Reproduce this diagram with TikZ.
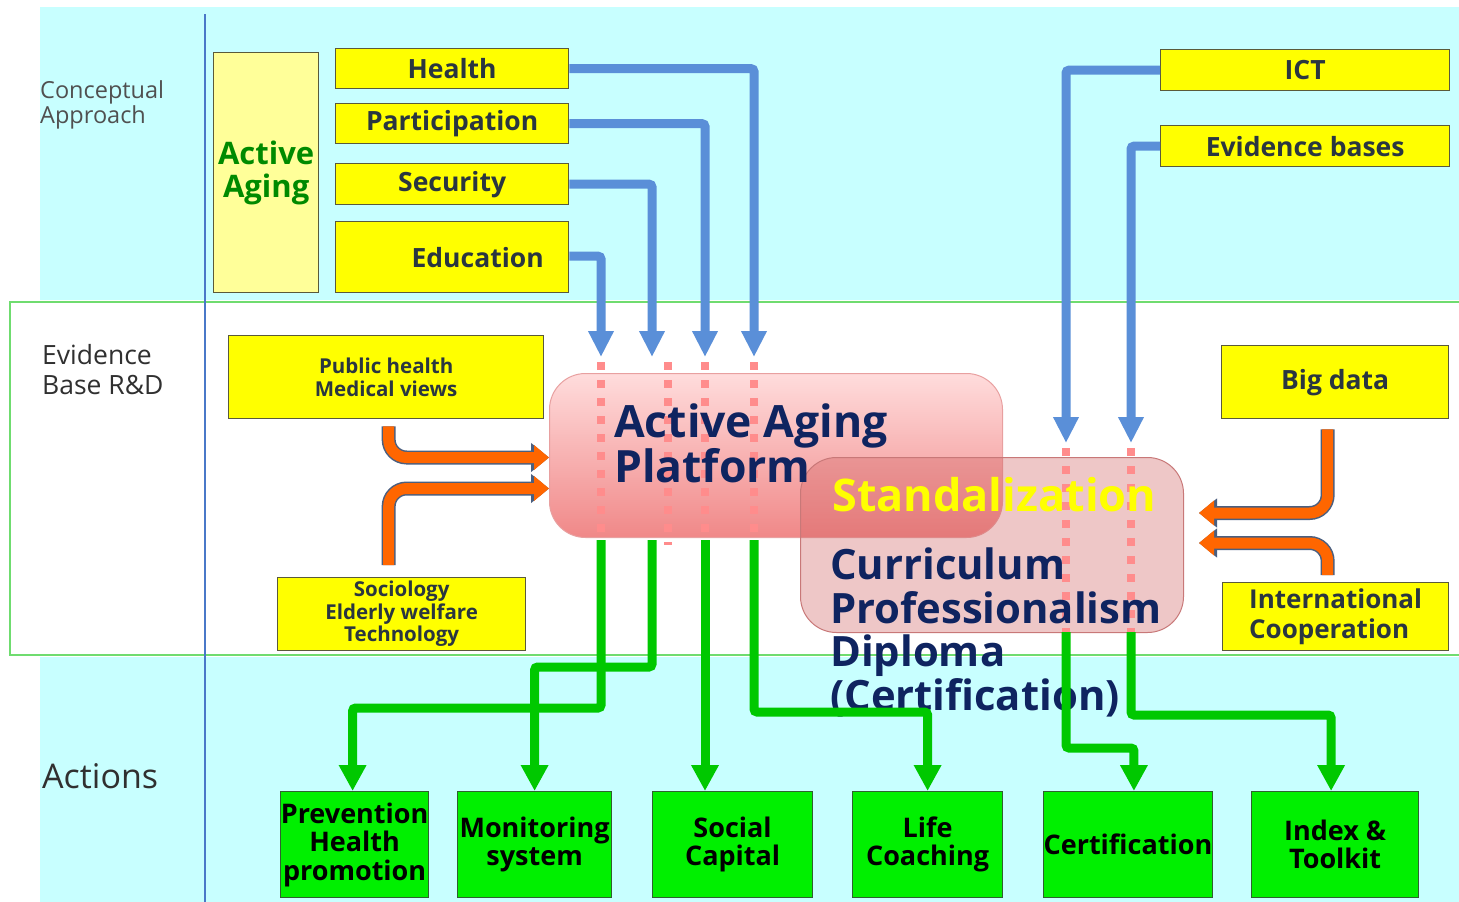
\documentclass[tikz,border=0pt]{standalone}
\usepackage{fontspec}
\setmainfont{Open Sans}
\usetikzlibrary{arrows.meta}
\definecolor{cyanbg}{HTML}{C8FFFF}
\definecolor{bandline}{HTML}{6FDC6F}
\definecolor{vline}{HTML}{4A78C8}
\definecolor{ybg}{HTML}{FFFF00}
\definecolor{lybg}{HTML}{FFFF99}
\definecolor{yedge}{HTML}{5A5A3A}
\definecolor{ytext}{HTML}{2A3640}
\definecolor{gbg}{HTML}{00F000}
\definecolor{gedge}{HTML}{306030}
\definecolor{bluec}{HTML}{5A8FD8}
\definecolor{greenc}{HTML}{00C800}
\definecolor{orangec}{HTML}{FF6600}
\definecolor{orangeedge}{HTML}{4A5F80}
\definecolor{navy}{HTML}{0F2460}
\definecolor{dotc}{HTML}{FF8C8C}
\definecolor{aagreen}{HTML}{008A00}
\definecolor{labgray}{HTML}{505050}
\definecolor{labdark}{HTML}{303030}
\definecolor{plattop}{HTML}{FFDCDC}
\definecolor{platbot}{HTML}{F08888}
\definecolor{platedge}{HTML}{E8A0A0}
\definecolor{stdfill}{HTML}{D06060}
\definecolor{stdedge}{HTML}{C87878}
\definecolor{stdyellow}{HTML}{FFFF00}
\begin{document}
\begin{tikzpicture}[x=1pt,y=-1pt,
  ybox/.style={draw=yedge, fill=ybg, line width=1.3pt, inner sep=0pt, anchor=north west, text=ytext, align=center, font=\bfseries\fontsize{26.5}{30}\selectfont},
  gbox/.style={draw=gedge, fill=gbg, line width=1.2pt, inner sep=0pt, anchor=north west, text=black, align=center, font=\bfseries\fontsize{27}{28.5}\selectfont, minimum height=106pt},
  bluearr/.style={draw=bluec, line width=9pt, rounded corners=3pt, -{Triangle[width=24pt,length=26pt]}},
  greenarr/.style={draw=greenc, line width=9pt, rounded corners=3pt, -{Triangle[width=26pt,length=26pt]}},
  dotline/.style={draw=dotc, line width=8pt, dash pattern=on 8pt off 10pt},
  orangeback/.style={draw=orangeedge, line width=14pt, rounded corners=18pt, -{Triangle[width=28pt,length=18pt]}},
  orangefront/.style={draw=orangec, line width=11pt, rounded corners=18pt, -{Triangle[width=24pt,length=15pt]}},
  sidelabel/.style={anchor=west, inner sep=0pt, align=left},
]
\useasboundingbox (0,0) rectangle (1459,902);
\fill[white] (0,0) rectangle (1459,902);
\fill[cyanbg] (40,7) rectangle (1459,300);
\fill[cyanbg] (40,657) rectangle (1459,902);
\draw[bandline, line width=1.5pt] (1459,302) -- (10,302) -- (10,655) -- (1459,655);
\draw[vline, line width=2pt] (205,14) -- (205,902);

% side labels
\node[sidelabel, text=labgray, font=\fontsize{23.5}{25}\selectfont] (lconc) at (40,105) {Conceptual\\Approach};
\node[sidelabel, text=labdark, font=\fontsize{26.5}{30}\selectfont] (levid) at (42,370) {Evidence\\Base R\&D};
\node[sidelabel, text=labdark, font=\fontsize{34}{36}\selectfont] (lact) at (42,776) {Actions};

% conceptual boxes
\node[draw=yedge, fill=lybg, line width=1.3pt, anchor=north west, minimum width=105pt, minimum height=240pt, inner sep=0pt, text=aagreen, font=\bfseries\fontsize{31}{33}\selectfont, align=center] (aa) at (213,52) {Active\\Aging};
\node[ybox, minimum width=233pt, minimum height=40pt] (health) at (335,48) {Health};
\node[ybox, minimum width=233pt, minimum height=40pt] (part) at (335,103) {Participation};
\node[ybox, minimum width=233pt, minimum height=41pt] (sec) at (335,163) {Security};
\node[ybox, minimum width=233pt, minimum height=71pt] (edu) at (335,221) {\hspace*{51pt}Education};
\node[ybox, minimum width=289pt, minimum height=41pt] (ict) at (1160,49) {ICT};
\node[ybox, minimum width=289pt, minimum height=41pt] (evid) at (1160,125) {Evidence bases};

% evidence boxes
\node[ybox, minimum width=315pt, minimum height=83pt, font=\bfseries\fontsize{20.5}{23}\selectfont] (ph) at (228,335) {Public health\\Medical views};
\node[ybox, minimum width=248pt, minimum height=73pt, font=\bfseries\fontsize{20.5}{22.5}\selectfont] (soc) at (277,577) {Sociology\\Elderly welfare\\Technology};
\node[ybox, minimum width=227pt, minimum height=73pt] (big) at (1221,345) {Big data};
\node[ybox, minimum width=226pt, minimum height=68pt, align=left, font=\bfseries\fontsize{26}{30}\selectfont] (intl) at (1222,582) {International\\Cooperation};

% action boxes
\node[gbox, minimum width=148pt] (prev) at (280,791) {Prevention\\Health\\promotion};
\node[gbox, minimum width=154pt] (mon) at (457,791) {Monitoring\\system};
\node[gbox, minimum width=160pt] (socap) at (652,791) {Social\\Capital};
\node[gbox, minimum width=150pt] (life) at (852,791) {Life\\Coaching};
\node[gbox, minimum width=167pt] (cert) at (1043,791) {Certification};
\node[gbox, minimum width=167pt] (index) at (1251,791) {Index \&\\Toolkit};

% entry points
\coordinate (pin1) at (601,357);
\coordinate (pin2) at (652,357);
\coordinate (pin3) at (705,357);
\coordinate (pin4) at (754,357);
\coordinate (pin5) at (1066,443);
\coordinate (pin6) at (1131,443);

% blue arrows
\draw[bluearr] (health.east) -| (pin4);
\draw[bluearr] (part.east) -| (pin3);
\draw[bluearr] (sec.east) -| (pin2);
\draw[bluearr] ([yshift=1pt]edu.east) -| (pin1);
\draw[bluearr] (ict.west) -| (pin5);
\draw[bluearr] (evid.west) -| (pin6);

% platform
\node[draw=platedge, line width=1pt, rounded corners=36pt, top color=plattop, bottom color=platbot, anchor=north west, minimum width=453pt, minimum height=164pt, inner sep=0pt] (plat) at (549,373) {};
\draw[dotline] (601,362) -- (601,545);
\draw[dotline] (668,362) -- (668,545);
\draw[dotline] (705,362) -- (705,545);
\draw[dotline] (754,362) -- (754,545);

% standardization
\node[draw=stdedge, line width=1pt, rounded corners=36pt, fill=stdfill, fill opacity=0.35, anchor=north west, minimum width=383pt, minimum height=175pt, inner sep=0pt] (std) at (800,457) {};
\draw[dotline] (1066,448) -- (1066,635);
\draw[dotline] (1131,448) -- (1131,635);

% texts
\node[anchor=north west, inner sep=0pt, align=left, text=navy, font=\bfseries\fontsize{44.5}{44}\selectfont] (plattxt) at (614,403) {Active Aging\\Platform};
\node[anchor=north west, inner sep=0pt, align=left, text=stdyellow, font=\bfseries\fontsize{45}{44}\selectfont] (stdtitle) at (832,477) {Standalization};
\node[anchor=north west, inner sep=0pt, align=left, text=navy, font=\bfseries\fontsize{41.8}{43.5}\selectfont] (stdtxt) at (830,548) {Curriculum\\Professionalism\\Diploma\\(Certification)};

% green arrows
\coordinate (gs1) at (601,540);
\coordinate (gs2) at (652,540);
\coordinate (gs3) at (705,540);
\coordinate (gs4) at (754,540);
\coordinate (gs5) at (1066,632);
\coordinate (gs6) at (1131,632);
\draw[greenarr] (gs1) -- ++(0,168) -| ([xshift=-2pt]prev.north);
\draw[greenarr] (gs2) -- ++(0,127) -| (mon.north);
\draw[greenarr] (gs3) -- (gs3 |- socap.north);
\draw[greenarr] (gs4) -- ++(0,172) -| (life.north);
\draw[greenarr] (gs5) -- ++(0,116) -| ([xshift=6pt]cert.north);
\draw[greenarr] (gs6) -- ++(0,83) -| ([xshift=-4pt]index.north);

% orange arrows
\draw[orangeback] ([xshift=2.5pt,yshift=-7pt]ph.south) |- ([yshift=-2pt]plat.west);
\draw[orangefront] ([xshift=2.5pt,yshift=-7pt]ph.south) |- ([yshift=-2pt]plat.west);
\draw[orangeback] ([xshift=-13pt,yshift=12pt]soc.north) |- ([yshift=-33pt]plat.west);
\draw[orangefront] ([xshift=-13pt,yshift=12pt]soc.north) |- ([yshift=-33pt]plat.west);
\draw[orangeback] ([xshift=-7.5pt,yshift=-10pt]big.south) |- ([xshift=15pt,yshift=32pt]std.east);
\draw[orangefront] ([xshift=-7.5pt,yshift=-10pt]big.south) |- ([xshift=15pt,yshift=32pt]std.east);
\draw[orangeback] ([xshift=-8pt,yshift=7pt]intl.north) |- ([xshift=15pt,yshift=2pt]std.east);
\draw[orangefront] ([xshift=-8pt,yshift=7pt]intl.north) |- ([xshift=15pt,yshift=2pt]std.east);
\end{tikzpicture}
\end{document}
